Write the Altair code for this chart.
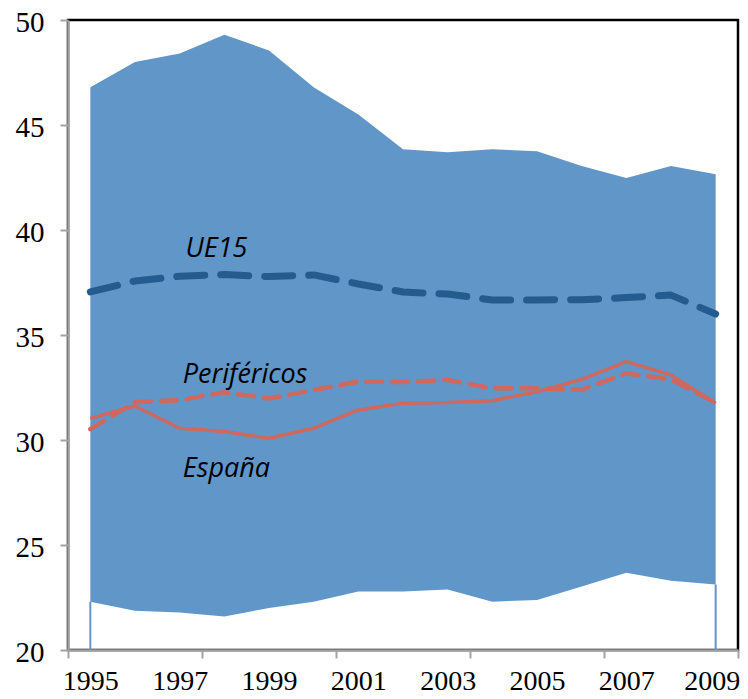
import altair as alt
import pandas as pd

years = list(range(1995, 2010))
upper = [46.8, 48.0, 48.4, 49.3, 48.55, 46.8, 45.5, 43.85, 43.7, 43.85, 43.75, 43.05, 42.48, 43.05, 42.65]
lower = [22.3, 21.87, 21.78, 21.6, 22.0, 22.3, 22.78, 22.78, 22.88, 22.3, 22.38, 23.02, 23.68, 23.3, 23.12]
ue15 = [37.05, 37.57, 37.8, 37.88, 37.78, 37.86, 37.43, 37.05, 36.95, 36.67, 36.67, 36.68, 36.78, 36.9, 36.0]
perifericos = [30.52, 31.8, 31.9, 32.27, 31.98, 32.38, 32.78, 32.76, 32.86, 32.46, 32.46, 32.4, 33.17, 32.89, 31.78]
espana = [31.03, 31.62, 30.56, 30.4, 30.08, 30.56, 31.43, 31.75, 31.78, 31.87, 32.3, 32.89, 33.73, 33.1, 31.75]

label_text = ["UE15", "Periféricos", "España"]
label_x = [1997.13, 1997.07, 1997.07]
label_y = [38.71, 32.71, 28.24]

x_ticks = [1994.5, 1997.5, 2000.5, 2003.5, 2006.5, 2009.5]
x_labels = [1995, 1997, 1999, 2001, 2003, 2005, 2007, 2009]
y_ticks = [20, 25, 30, 35, 40, 45, 50]

df = pd.DataFrame({"year": years, "upper": upper, "lower": lower,
                   "UE15": ue15, "Perifericos": perifericos, "Espana": espana})
edges = df[df["year"].isin([years[0], years[-1]])]
labels_df = pd.DataFrame({"text": label_text, "x": label_x, "y": label_y})

SERIF = "Liberation Serif"
AXIS_GRAY = "#a3a3a3"

x_scale = alt.Scale(domain=[1994.5, 2009.5], nice=False, zero=False)
y_scale = alt.Scale(domain=[20, 50], nice=False, zero=False)

x_axis = alt.Axis(
    values=sorted(x_ticks + x_labels), format="d", title=None, grid=False,
    labelExpr="datum.value % 1 === 0 ? datum.label : ''",
    tickOpacity={"condition": {"test": "datum.value % 1 !== 0", "value": 1}, "value": 0},
    labelOffset={"condition": {"test": "datum.value === 2009", "value": -4}, "value": 0},
    labelFont=SERIF, labelFontSize=28, labelColor="black",
    labelBaseline="alphabetic", labelPadding=31,
    labelOverlap=False, labelFlush=False,
    tickSize=8, tickWidth=2, tickColor=AXIS_GRAY,
    domainColor=AXIS_GRAY, domainWidth=2.5,
)
y_axis = alt.Axis(
    values=y_ticks, title=None, grid=False,
    labelFont=SERIF, labelFontSize=29, labelColor="black", labelPadding=16,
    labelOffset=2,
    labelOverlap=False, labelFlush=False,
    tickSize=8, tickWidth=2, tickColor=AXIS_GRAY,
    domainColor=AXIS_GRAY, domainWidth=2.5,
)

BLUE = "#6096c8"
DARK = "#245c90"
RED = "#cf685e"

area = alt.Chart(df).mark_area(color=BLUE, opacity=1).encode(
    x=alt.X("year:Q", scale=x_scale, axis=x_axis),
    y=alt.Y("upper:Q", scale=y_scale, axis=y_axis),
    y2="lower:Q",
)
edge_rules = alt.Chart(edges).mark_rule(color=BLUE, strokeWidth=2).encode(
    x="year:Q", y="lower:Q", y2=alt.datum(20),
)
line_ue = alt.Chart(df).mark_line(color=DARK, strokeWidth=7, strokeDash=[28, 16],
                                  strokeCap="round", strokeJoin="round").encode(
    x="year:Q", y="UE15:Q")
line_per = alt.Chart(df).mark_line(color=RED, strokeWidth=4.5, strokeDash=[16, 10],
                                   strokeCap="round", strokeJoin="round").encode(
    x="year:Q", y="Perifericos:Q")
line_es = alt.Chart(df).mark_line(color=RED, strokeWidth=3.5, strokeJoin="round").encode(
    x="year:Q", y="Espana:Q")
texts = alt.Chart(labels_df).mark_text(
    align="left", baseline="alphabetic", font="Open Sans", fontStyle="italic",
    fontSize=27, color="black").encode(
    x="x:Q", y="y:Q", text="text:N")

chart = alt.layer(area, edge_rules, line_per, line_es, line_ue, texts).properties(
    width=670, height=630,
    autosize=alt.AutoSizeParams(type="none"),
    padding={"left": 60, "top": 12, "right": 2, "bottom": 41},
).configure_view(stroke="black", strokeWidth=2.5)

chart.save("out.html", embed_options={"renderer": "svg", "actions": False})
